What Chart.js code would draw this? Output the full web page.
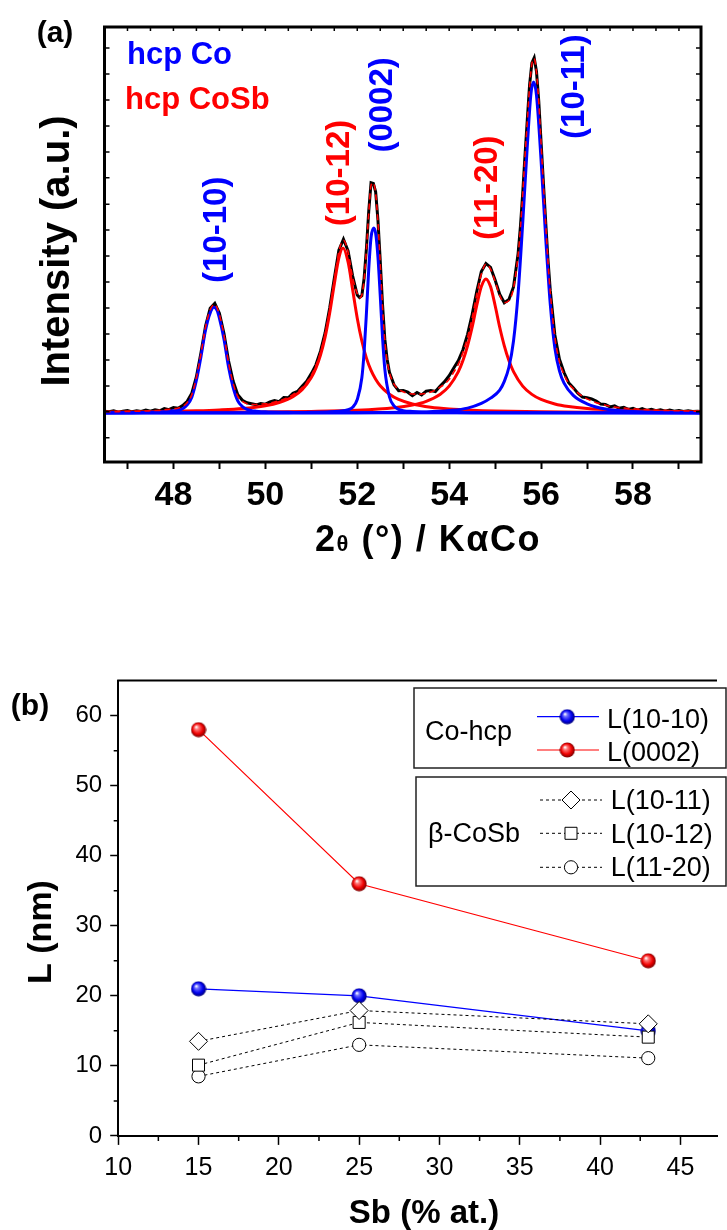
<!DOCTYPE html>
<html lang="en">
<head>
<meta charset="UTF-8">
<title>hcp Co / CoSb - XRD and crystallite size</title>
<script src="https://cdn.jsdelivr.net/npm/chart.js"></script>
<style>
    body {
        margin: 0;
        background: #fff;
        width: 727px;
        height: 1230px;
        position: relative;
        overflow: hidden;
    }
    .panel {
        position: absolute;
        left: 0;
    }
    #xrdPanel { top: 0; }
    #sizePanel { top: 600px; }
</style>
</head>
<body>
<div class="panel" id="xrdPanel"><canvas id="xrdChart" width="727" height="600"></canvas></div>
<div class="panel" id="sizePanel"><canvas id="sizeChart" width="727" height="630"></canvas></div>

<script>
// ---------- (a) diffractogram ----------
const scanTheta = [
    46.5, 46.6, 46.7, 46.8, 46.9, 47.0, 47.1, 47.2, 47.3, 47.4,
    47.5, 47.6, 47.7, 47.8, 47.9, 48.0, 48.1, 48.2, 48.3, 48.4,
    48.5, 48.6, 48.7, 48.8, 48.9, 49.0, 49.1, 49.2, 49.3, 49.4,
    49.5, 49.6, 49.7, 49.8, 49.9, 50.0, 50.1, 50.2, 50.3, 50.4,
    50.5, 50.6, 50.7, 50.8, 50.9, 51.0, 51.1, 51.2, 51.3, 51.4,
    51.5, 51.6, 51.7, 51.8, 51.9,
    52.0, 52.05, 52.1, 52.15, 52.2, 52.25, 52.3, 52.35, 52.4, 52.45, 52.5, 52.55, 52.6, 52.65,
    52.7, 52.8, 52.9, 53.0, 53.1, 53.2, 53.3, 53.4, 53.5, 53.6,
    53.7, 53.8, 53.9, 54.0, 54.1, 54.2, 54.3, 54.4, 54.5, 54.6,
    54.7, 54.8, 54.9, 55.0, 55.1, 55.2, 55.3, 55.4, 55.5,
    55.55, 55.6, 55.65, 55.7, 55.75, 55.8, 55.85, 55.9, 55.95, 56.0, 56.05, 56.1, 56.15, 56.2,
    56.3, 56.4, 56.5, 56.6, 56.7, 56.8, 56.9, 57.0, 57.1, 57.2,
    57.3, 57.4, 57.5, 57.6, 57.7, 57.8, 57.9, 58.0, 58.1, 58.2,
    58.3, 58.4, 58.5, 58.6, 58.7, 58.8, 58.9, 59.0, 59.1, 59.2,
    59.3, 59.4, 59.5
];
// measured pattern
const scanObs = [
    0.5, 0.3, 0.6, 0.2, 0.5, 0.7, 0.3, 0.6, 0.4, 0.8,
    0.5, 0.9, 0.6, 1.2, 0.9, 1.5, 1.3, 2.1, 3.3, 5.6,
    10.3, 17.2, 24.8, 29.8, 31.2, 28.4, 22.6, 14.8, 9.0, 5.2,
    3.6, 2.9, 2.6, 2.3, 2.7, 2.5, 3.1, 3.5, 3.2, 4.4,
    4.3, 5.6, 6.1, 7.6, 9.0, 11.2, 13.7, 17.6, 22.8, 29.9,
    38.3, 46.4, 49.5, 46.2, 39.0,
    33.6, 32.9, 33.4, 38.5, 47.0, 57.5, 65.6, 65.4, 63.0, 55.0, 43.4, 30.9, 21.0, 15.3,
    11.6, 8.0, 6.3, 6.4, 5.9, 4.9, 5.8, 5.1, 6.2, 6.4,
    6.1, 7.6, 8.9, 10.6, 12.8, 14.9, 18.0, 22.4, 28.0, 34.6,
    40.3, 42.6, 41.5, 37.9, 33.8, 31.4, 32.3, 35.9, 45.4,
    53.0, 62.6, 73.4, 83.5, 93.5, 99.8, 101.2, 97.3, 88.8, 77.2, 65.8, 54.5, 43.7, 34.9,
    22.2, 15.3, 11.5, 8.6, 7.2, 5.6, 4.5, 4.3, 4.0, 3.4,
    2.5, 2.4, 1.7, 2.0, 1.3, 1.6, 1.0, 1.3, 0.8, 1.2,
    0.7, 1.0, 0.6, 0.9, 0.5, 0.8, 0.5, 0.7, 0.4, 0.6,
    0.4, 0.5, 0.4
];
// fitted envelope
const scanFit = [
    0.34, 0.34, 0.35, 0.37, 0.39, 0.43, 0.44, 0.47, 0.51, 0.54,
    0.61, 0.66, 0.72, 0.88, 1.0, 1.17, 1.35, 1.84, 2.97, 5.2,
    10.0, 16.9, 24.5, 29.4, 30.9, 28.0, 22.1, 14.2, 8.4, 4.7,
    3.25, 2.6, 2.4, 2.4, 2.5, 2.6, 2.8, 3.1, 3.45, 3.9,
    4.5, 5.2, 6.0, 7.2, 8.7, 10.7, 13.4, 17.2, 22.3, 29.3,
    37.6, 46.0, 49.2, 45.8, 38.5,
    34.0, 32.8, 33.6, 38.0, 46.5, 57.0, 64.8, 65.6, 62.5, 54.5, 42.8, 30.2, 20.6, 14.8,
    11.5, 8.2, 6.7, 6.0, 5.6, 5.4, 5.35, 5.4, 5.6, 5.95,
    6.5, 7.3, 8.2, 9.6, 11.6, 13.9, 17.2, 21.5, 27.0, 33.7,
    39.5, 42.4, 41.0, 37.5, 33.5, 31.4, 32.0, 35.5, 45.0,
    52.5, 62.3, 73.0, 83.0, 93.0, 99.5, 101.0, 97.0, 88.5, 76.8, 65.3, 54.0, 43.2, 34.4,
    21.5, 14.6, 10.9, 8.4, 6.9, 5.7, 4.76, 4.0, 3.4, 2.9,
    2.55, 2.2, 1.9, 1.7, 1.5, 1.4, 1.26, 1.15, 1.08, 1.0,
    0.92, 0.85, 0.79, 0.75, 0.71, 0.66, 0.62, 0.59, 0.56, 0.53,
    0.5, 0.47, 0.45
];

// single-peak components: hcp Co (blue)
const co1010Theta = [46.5, 47.0, 47.5, 47.8, 48.0, 48.1, 48.2, 48.3, 48.4, 48.5, 48.6, 48.7, 48.8, 48.88, 48.95,
    49.0, 49.1, 49.2, 49.3, 49.4, 49.5, 49.6, 49.7, 49.8, 50.0, 50.5, 51.0, 59.5];
const co1010 = [0.02, 0.05, 0.15, 0.35, 0.6, 0.75, 1.2, 2.3, 4.5, 9.3, 16.1, 23.7, 28.5, 30.1, 29.2,
    27.0, 21.0, 13.0, 7.2, 3.4, 1.8, 1.0, 0.65, 0.5, 0.3, 0.15, 0.05, 0];

const co0002Theta = [46.5, 50.5, 51.0, 51.4, 51.6, 51.8, 51.9, 52.0, 52.1, 52.15, 52.2, 52.25, 52.3, 52.36,
    52.4, 52.45, 52.5, 52.55, 52.6, 52.7, 52.8, 52.9, 53.0, 53.2, 53.4, 53.8, 54.5, 59.5];
const co0002 = [0, 0.06, 0.15, 0.3, 0.5, 0.9, 1.6, 3.8, 10.0, 17.5, 28.5, 41.0, 50.0, 52.7,
    51.2, 44.5, 33.5, 21.5, 12.5, 4.6, 2.0, 1.0, 0.65, 0.4, 0.25, 0.15, 0.06, 0];

const co1011Theta = [46.5, 50.0, 52.0, 53.0, 53.5, 54.0, 54.4, 54.7, 54.9, 55.1, 55.2, 55.3, 55.4, 55.5, 55.6,
    55.7, 55.78, 55.84, 55.9, 56.0, 56.1, 56.2, 56.3, 56.4, 56.5, 56.7, 57.0, 57.4, 58.0, 59.0, 59.5];
const co1011 = [0, 0, 0.05, 0.15, 0.25, 0.65, 1.35, 2.7, 4.2, 6.5, 9.0, 13.0, 20.5, 34.0, 54.0,
    76.0, 91.0, 94.3, 90.5, 72.0, 50.0, 31.0, 18.5, 12.0, 8.5, 5.0, 2.6, 1.1, 0.42, 0.13, 0.07];

// single-peak components: hcp CoSb (red)
const cosb1012Theta = [46.5, 47.0, 47.5, 48.0, 48.5, 49.0, 49.5, 50.0, 50.3, 50.6, 50.8, 51.0, 51.1, 51.2,
    51.3, 51.4, 51.5, 51.6, 51.69, 51.8, 51.9, 52.0, 52.1, 52.2, 52.3, 52.4, 52.5, 52.7, 52.9,
    53.2, 53.6, 54.0, 54.5, 55.0, 56.0, 57.0, 58.0, 59.5];
const cosb1012 = [0.22, 0.275, 0.344, 0.443, 0.59, 0.83, 1.23, 2.04, 2.96, 4.62, 6.61, 10.06, 12.74, 16.5,
    21.6, 28.5, 36.7, 44.2, 47.0, 43.0, 35.1, 27.0, 20.5, 15.6, 12.1, 9.6, 7.76, 5.3, 3.82,
    2.53, 1.61, 1.11, 0.76, 0.55, 0.33, 0.21, 0.15, 0.1];

const cosb1120Theta = [46.5, 48.0, 49.5, 51.0, 52.0, 52.8, 53.2, 53.5, 53.8, 54.0, 54.2, 54.3, 54.4, 54.5,
    54.6, 54.7, 54.8, 54.9, 55.0, 55.1, 55.2, 55.3, 55.4, 55.6, 55.8, 56.0, 56.3, 56.6, 57.0,
    57.6, 58.5, 59.5];
const cosb1120 = [0.09, 0.13, 0.22, 0.42, 0.76, 1.47, 2.25, 3.3, 5.27, 7.64, 11.75, 14.9, 19.1, 24.4,
    30.6, 36.0, 38.2, 36.0, 30.6, 24.4, 19.1, 14.9, 11.75, 7.64, 5.27, 3.82, 2.54, 1.8, 1.22,
    0.76, 0.44, 0.28];

const peakLabels = ['(10-10)', '(10-12)', '(0002)', '(11-20)', '(10-11)'];
const peakLabelTheta = [48.94, 51.62, 52.55, 54.85, 56.73];
const peakLabelLevel = [52.2, 68.4, 87.8, 64.2, 93.0];
const peakLabelPhase = ['Co', 'CoSb', 'Co', 'CoSb', 'Co'];
const intensityTicks = [-7.1, 0.3, 7.7, 15.1, 22.5, 29.9, 37.3, 44.7, 52.1, 59.5, 67.0, 74.4, 81.8, 89.2, 96.6, 104.0];

// ---------- (b) crystallite size vs Sb content ----------
const sbContent = [15, 25, 43];
const size1010 = [21, 20, 15];
const size0002 = [58, 36, 25];
const size1011 = [13.5, 17.9, 16.0];
const size1012 = [10.1, 16.2, 14.1];
const size1120 = [8.5, 13.0, 11.1];

const FONT = '"Liberation Sans", Arial, Helvetica, sans-serif';
const BLUE = '#0000ff';
const RED = '#ff0000';

const pts = (xs, ys) => xs.map((x, i) => ({ x: x, y: ys[i] }));

// shaded sphere used as point style in (b)
function makeBall(light, base, dark) {
    const c = document.createElement('canvas');
    c.width = 16;
    c.height = 16;
    const g = c.getContext('2d');
    const grad = g.createRadialGradient(5.6, 5.2, 0.4, 8, 8, 7.8);
    grad.addColorStop(0, '#ffffff');
    grad.addColorStop(0.22, light);
    grad.addColorStop(0.65, base);
    grad.addColorStop(1, dark);
    g.fillStyle = grad;
    g.beginPath();
    g.arc(8, 8, 7.6, 0, Math.PI * 2);
    g.fill();
    return c;
}
const blueBall = makeBall('#7070ff', '#0000f0', '#000070');
const redBall = makeBall('#ff7a7a', '#f00000', '#700000');

// ---------- plugins ----------
const xrdDecor = {
    id: 'xrdDecor',
    afterDraw(chart) {
        const { ctx, chartArea: a, scales: { x, y } } = chart;
        ctx.save();

        // inner ticks
        ctx.strokeStyle = '#000';
        ctx.lineWidth = 1.5;
        ctx.beginPath();
        intensityTicks.forEach(v => {
            const py = y.getPixelForValue(v);
            ctx.moveTo(a.left, py);
            ctx.lineTo(a.left + 5, py);
            ctx.moveTo(a.right, py);
            ctx.lineTo(a.right - 5, py);
        });
        for (let t = 47; t <= 59; t += 0.5) {
            const px = x.getPixelForValue(t);
            ctx.moveTo(px, a.top);
            ctx.lineTo(px, a.top + 4);
        }
        ctx.stroke();

        // frame
        ctx.lineWidth = 3;
        ctx.strokeRect(a.left, a.top, a.right - a.left, a.bottom - a.top);

        // panel letter + phase key
        ctx.fillStyle = '#000';
        ctx.font = 'bold 30px ' + FONT;
        ctx.textAlign = 'center';
        ctx.textBaseline = 'middle';
        ctx.fillText('(a)', 55, 34);

        ctx.textAlign = 'left';
        ctx.textBaseline = 'alphabetic';
        ctx.font = 'bold 31px ' + FONT;
        ctx.fillStyle = BLUE;
        ctx.fillText('hcp Co', 127, 64);
        ctx.fillStyle = RED;
        ctx.fillText('hcp CoSb', 125, 109);

        // peak indices
        ctx.font = 'bold 33px ' + FONT;
        ctx.textAlign = 'center';
        ctx.textBaseline = 'middle';
        peakLabels.forEach((lab, i) => {
            ctx.save();
            ctx.translate(x.getPixelForValue(peakLabelTheta[i]), y.getPixelForValue(peakLabelLevel[i]));
            ctx.rotate(-Math.PI / 2);
            ctx.fillStyle = peakLabelPhase[i] === 'Co' ? BLUE : RED;
            ctx.fillText(lab, 0, 0);
            ctx.restore();
        });

        // y title
        ctx.fillStyle = '#000';
        ctx.save();
        ctx.font = 'bold 40px ' + FONT;
        ctx.translate(58, 251);
        ctx.rotate(-Math.PI / 2);
        ctx.fillText('Intensity (a.u.)', 0, 0);
        ctx.restore();

        // x title, mixed sizes
        const runs = [
            ['2', 'bold 36px ' + FONT],
            ['\u03b8', 'bold 22px ' + FONT],
            [' (\u00b0) / K', 'bold 36px ' + FONT],
            ['\u03b1', 'bold 36px ' + FONT],
            ['Co', 'bold 36px ' + FONT]
        ];
        ctx.fillStyle = '#000';
        ctx.textAlign = 'left';
        ctx.textBaseline = 'alphabetic';
        ctx.letterSpacing = '1.5px';
        let total = 0;
        runs.forEach(r => { ctx.font = r[1]; total += ctx.measureText(r[0]).width; });
        let cx = 428 - total / 2;
        runs.forEach(r => {
            ctx.font = r[1];
            ctx.fillText(r[0], cx, 551);
            cx += ctx.measureText(r[0]).width;
        });
        ctx.letterSpacing = '0px';
        ctx.restore();
    }
};

const sizeDecor = {
    id: 'sizeDecor',
    afterDraw(chart) {
        const { ctx, chartArea: a, scales: { x, y } } = chart;
        ctx.save();
        ctx.strokeStyle = '#000';

        // top border
        ctx.lineWidth = 2;
        ctx.beginPath();
        ctx.moveTo(a.left - 1, a.top);
        ctx.lineTo(a.right, a.top);
        ctx.stroke();

        // minor ticks
        ctx.lineWidth = 1.5;
        ctx.beginPath();
        for (let v = 12.5; v < 47; v += 5) {
            const px = x.getPixelForValue(v);
            ctx.moveTo(px, a.bottom);
            ctx.lineTo(px, a.bottom + 5);
        }
        for (let v = 5; v < 65; v += 10) {
            const py = y.getPixelForValue(v);
            ctx.moveTo(a.left, py);
            ctx.lineTo(a.left - 4.5, py);
        }
        ctx.stroke();

        // titles
        ctx.fillStyle = '#000';
        ctx.textAlign = 'center';
        ctx.textBaseline = 'middle';
        ctx.font = 'bold 30px ' + FONT;
        ctx.fillText('(b)', 30, 107);

        ctx.save();
        ctx.font = 'bold 34px ' + FONT;
        ctx.translate(42, 332);
        ctx.rotate(-Math.PI / 2);
        ctx.fillText('L (nm)', 0, 0);
        ctx.restore();

        ctx.textBaseline = 'alphabetic';
        ctx.font = 'bold 33px ' + FONT;
        ctx.fillText('Sb (% at.)', 424, 623);

        // grouped legend
        ctx.lineWidth = 1.5;
        ctx.strokeStyle = '#222';
        ctx.strokeRect(414, 88, 312, 80);
        ctx.strokeRect(416, 177, 310, 109);

        ctx.textAlign = 'left';
        ctx.font = '27px ' + FONT;
        ctx.fillStyle = '#000';
        ctx.fillText('Co-hcp', 425, 139.5);
        ctx.fillText('\u03b2-CoSb', 428, 241.7);

        const ds = chart.data.datasets;
        const byLabel = l => ds.find(d => d.label === l);
        const solidRows = [['L(10-10)', 116.7, 128], ['L(0002)', 150, 160.5]];
        solidRows.forEach(([lab, ly, by]) => {
            const d = byLabel(lab);
            ctx.strokeStyle = d.borderColor;
            ctx.lineWidth = 1.2;
            ctx.setLineDash([]);
            ctx.beginPath();
            ctx.moveTo(537, ly);
            ctx.lineTo(599, ly);
            ctx.stroke();
            ctx.drawImage(d.pointStyle, 567.3 - 8, ly - 8);
            ctx.fillStyle = '#000';
            ctx.fillText(lab, 607, by);
        });

        const dashRows = [['L(10-11)', 200, 209], ['L(10-12)', 233.3, 242.7], ['L(11-20)', 267.3, 275.5]];
        dashRows.forEach(([lab, ly, by]) => {
            const d = byLabel(lab);
            ctx.strokeStyle = '#000';
            ctx.lineWidth = 1;
            ctx.setLineDash(d.borderDash);
            ctx.beginPath();
            ctx.moveTo(540, ly);
            ctx.lineTo(602, ly);
            ctx.stroke();
            ctx.setLineDash([]);
            const mx = 571;
            const r = d.pointRadius;
            ctx.fillStyle = '#fff';
            ctx.beginPath();
            if (d.pointStyle === 'rectRot') {
                ctx.moveTo(mx, ly - r); ctx.lineTo(mx + r, ly); ctx.lineTo(mx, ly + r); ctx.lineTo(mx - r, ly); ctx.closePath();
            } else if (d.pointStyle === 'rect') {
                const h = r * Math.SQRT1_2;
                ctx.rect(mx - h, ly - h, 2 * h, 2 * h);
            } else {
                ctx.arc(mx, ly, r, 0, Math.PI * 2);
            }
            ctx.fill();
            ctx.stroke();
            ctx.fillStyle = '#000';
            ctx.fillText(lab, 610.7, by);
        });
        ctx.restore();
    }
};

// ---------- (a) chart ----------
new Chart(document.getElementById('xrdChart'), {
    type: 'line',
    data: {
        datasets: [
            { label: 'fit', data: pts(scanTheta, scanFit), borderColor: RED, borderWidth: 1.6, borderDash: [6, 4], order: 0 },
            { label: 'Co (10-10)', data: pts(co1010Theta, co1010), borderColor: BLUE, borderWidth: 3, order: 1 },
            { label: 'Co (0002)', data: pts(co0002Theta, co0002), borderColor: BLUE, borderWidth: 3, order: 1 },
            { label: 'Co (10-11)', data: pts(co1011Theta, co1011), borderColor: BLUE, borderWidth: 3, order: 1 },
            { label: 'CoSb (10-12)', data: pts(cosb1012Theta, cosb1012), borderColor: RED, borderWidth: 3, order: 2 },
            { label: 'CoSb (11-20)', data: pts(cosb1120Theta, cosb1120), borderColor: RED, borderWidth: 3, order: 2 },
            { label: 'measured', data: pts(scanTheta, scanObs), borderColor: '#000', borderWidth: 3, cubicInterpolationMode: 'default', tension: 0, order: 3 }
        ]
    },
    options: {
        responsive: false,
        animation: false,
        devicePixelRatio: 1,
        elements: {
            point: { radius: 0 },
            line: { cubicInterpolationMode: 'monotone', fill: false }
        },
        layout: { padding: { left: 0, right: 26, top: 27, bottom: 38 } },
        plugins: { legend: { display: false }, tooltip: { enabled: false } },
        scales: {
            x: {
                type: 'linear',
                min: 46.5,
                max: 59.48,
                afterFit: s => { s.height = 100; },
                border: { display: false },
                grid: {
                    drawOnChartArea: false,
                    drawTicks: true,
                    tickLength: 7,
                    tickWidth: 2,
                    tickColor: '#000'
                },
                ticks: {
                    stepSize: 1,
                    includeBounds: false,
                    autoSkip: false,
                    maxRotation: 0,
                    padding: 6,
                    color: '#000',
                    font: { family: FONT, size: 34, weight: 'bold' },
                    callback: v => (Math.round(v) % 2 === 0 ? Math.round(v) : '')
                }
            },
            y: {
                min: -14,
                max: 110,
                afterFit: s => { s.width = 104.5; },
                border: { display: false },
                grid: { display: false },
                ticks: { display: false }
            }
        }
    },
    plugins: [xrdDecor]
});

// ---------- (b) chart ----------
new Chart(document.getElementById('sizeChart'), {
    type: 'line',
    data: {
        datasets: [
            { label: 'L(10-11)', data: pts(sbContent, size1011), borderColor: '#000', borderWidth: 1, borderDash: [3, 3],
              pointStyle: 'rectRot', pointRadius: 9, pointBackgroundColor: '#fff', pointBorderColor: '#000', pointBorderWidth: 1, order: 0 },
            { label: 'L(10-12)', data: pts(sbContent, size1012), borderColor: '#000', borderWidth: 1, borderDash: [3, 3],
              pointStyle: 'rect', pointRadius: 8.5, pointBackgroundColor: '#fff', pointBorderColor: '#000', pointBorderWidth: 1, order: 0 },
            { label: 'L(11-20)', data: pts(sbContent, size1120), borderColor: '#000', borderWidth: 1, borderDash: [3, 3],
              pointStyle: 'circle', pointRadius: 6.6, pointBackgroundColor: '#fff', pointBorderColor: '#000', pointBorderWidth: 1, order: 0 },
            { label: 'L(10-10)', data: pts(sbContent, size1010), borderColor: BLUE, borderWidth: 1.2, pointStyle: blueBall, order: 1 },
            { label: 'L(0002)', data: pts(sbContent, size0002), borderColor: RED, borderWidth: 1.2, pointStyle: redBall, order: 1 }
        ]
    },
    options: {
        responsive: false,
        animation: false,
        devicePixelRatio: 1,
        elements: { line: { tension: 0, fill: false } },
        layout: { padding: { left: 0, right: 0, top: 80.6, bottom: 0 } },
        plugins: { legend: { display: false }, tooltip: { enabled: false } },
        scales: {
            x: {
                type: 'linear',
                min: 10,
                max: 47.28,
                afterFit: s => { s.height = 94.1; },
                border: { display: true, color: '#000', width: 2 },
                grid: { drawOnChartArea: false, drawTicks: true, tickLength: 9, tickWidth: 1.5, tickColor: '#000' },
                ticks: {
                    stepSize: 5,
                    includeBounds: false,
                    autoSkip: false,
                    maxRotation: 0,
                    padding: 8,
                    color: '#000',
                    font: { family: FONT, size: 25 }
                }
            },
            y: {
                min: 0,
                max: 65,
                afterFit: s => { s.width = 118.2; },
                border: { display: true, color: '#000', width: 2 },
                grid: { drawOnChartArea: false, drawTicks: true, tickLength: 8, tickWidth: 1.5, tickColor: '#000' },
                ticks: {
                    stepSize: 10,
                    includeBounds: false,
                    padding: 8,
                    color: '#000',
                    font: { family: FONT, size: 24 }
                }
            }
        }
    },
    plugins: [sizeDecor]
});
</script>
</body>
</html>
